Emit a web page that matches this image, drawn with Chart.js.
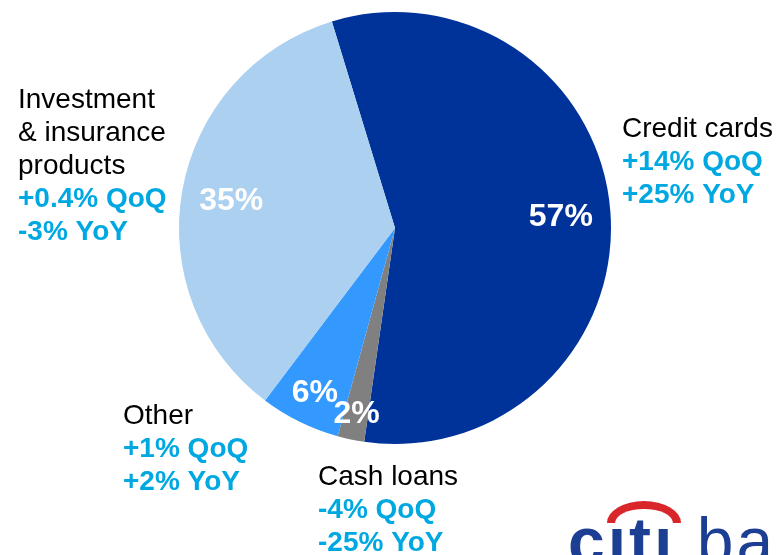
<!DOCTYPE html>
<html>
<head>
<meta charset="utf-8">
<script src="https://cdn.jsdelivr.net/npm/chart.js@4.4.1/dist/chart.umd.min.js"></script>
<style>
  html, body { margin: 0; padding: 0; background: #fff; overflow: hidden; }
  #wrap { position: relative; width: 777px; height: 555px; overflow: hidden; }
  #logo { position: absolute; left: 568px; top: 508px; font-family: "Liberation Sans", Arial, sans-serif;
          font-size: 66px; color: #1c3f94; white-space: nowrap; letter-spacing: 3px; line-height: 1; }
  #logo b { font-weight: bold; }
  #arc { position: absolute; left: 607px; top: 501px; width: 74px; height: 22px;
         border: 8px solid #d9262b; border-bottom: none;
         border-radius: 50% 50% 0 0 / 100% 100% 0 0; box-sizing: border-box; }
</style>
</head>
<body>
<div id="wrap">
  <canvas id="pie" width="777" height="555"></canvas>
  <div id="logo"><b>cıtı</b> bank</div>
  <div id="arc"></div>
</div>
<script>
const categories = ["Credit cards", "Cash loans", "Other", "Investment & insurance products"];
const shares = [57, 2, 6, 35];
const qoq = ["+14% QoQ", "-4% QoQ", "+1% QoQ", "+0.4% QoQ"];
const yoy = ["+25% YoY", "-25% YoY", "+2% YoY", "-3% YoY"];
const sliceColors = ["#003399", "#808080", "#3399ff", "#abd0f0"];

const labelFont = '28px "Liberation Sans", Arial, sans-serif';
const boldFont = 'bold 28px "Liberation Sans", Arial, sans-serif';
const cyan = "#00a8e1";

// where each category block sits, name lines then the two change lines
const blocks = [
  { x: 622, y: 129, name: ["Credit cards"] },
  { x: 318, y: 477, name: ["Cash loans"] },
  { x: 123, y: 416, name: ["Other"] },
  { x: 18, y: 100, name: ["Investment", "& insurance", "products"] }
];
const lineGap = 33;
const pctRadius = [0.77, 0.87, 0.84, 0.77];

const labelPlugin = {
  id: "labels",
  afterDraw(chart) {
    const ctx = chart.ctx;
    ctx.save();
    ctx.textBaseline = "middle";
    ctx.textAlign = "left";
    blocks.forEach((b, i) => {
      let y = b.y;
      ctx.font = labelFont;
      ctx.fillStyle = "#000";
      b.name.forEach(line => { ctx.fillText(line, b.x, y); y += lineGap; });
      ctx.font = boldFont;
      ctx.fillStyle = cyan;
      ctx.fillText(qoq[i], b.x, y); y += lineGap;
      ctx.fillText(yoy[i], b.x, y);
    });

    ctx.font = 'bold 32px "Liberation Sans", Arial, sans-serif';
    ctx.fillStyle = "#fff";
    ctx.textAlign = "center";
    chart.getDatasetMeta(0).data.forEach((arc, i) => {
      const p = arc.getProps(["x", "y", "startAngle", "endAngle", "outerRadius"], true);
      const mid = (p.startAngle + p.endAngle) / 2;
      const r = p.outerRadius * pctRadius[i];
      ctx.fillText(shares[i] + "%", p.x + Math.cos(mid) * r, p.y + Math.sin(mid) * r + 2);
    });
    ctx.restore();
  }
};

new Chart(document.getElementById("pie"), {
  type: "pie",
  data: {
    labels: categories,
    datasets: [{
      data: shares,
      backgroundColor: sliceColors,
      borderWidth: 0
    }]
  },
  options: {
    responsive: false,
    animation: false,
    rotation: -17,
    layout: { padding: { left: 179, right: 166, top: 12, bottom: 111 } },
    plugins: { legend: { display: false }, tooltip: { enabled: false } }
  },
  plugins: [labelPlugin]
});
</script>
</body>
</html>
